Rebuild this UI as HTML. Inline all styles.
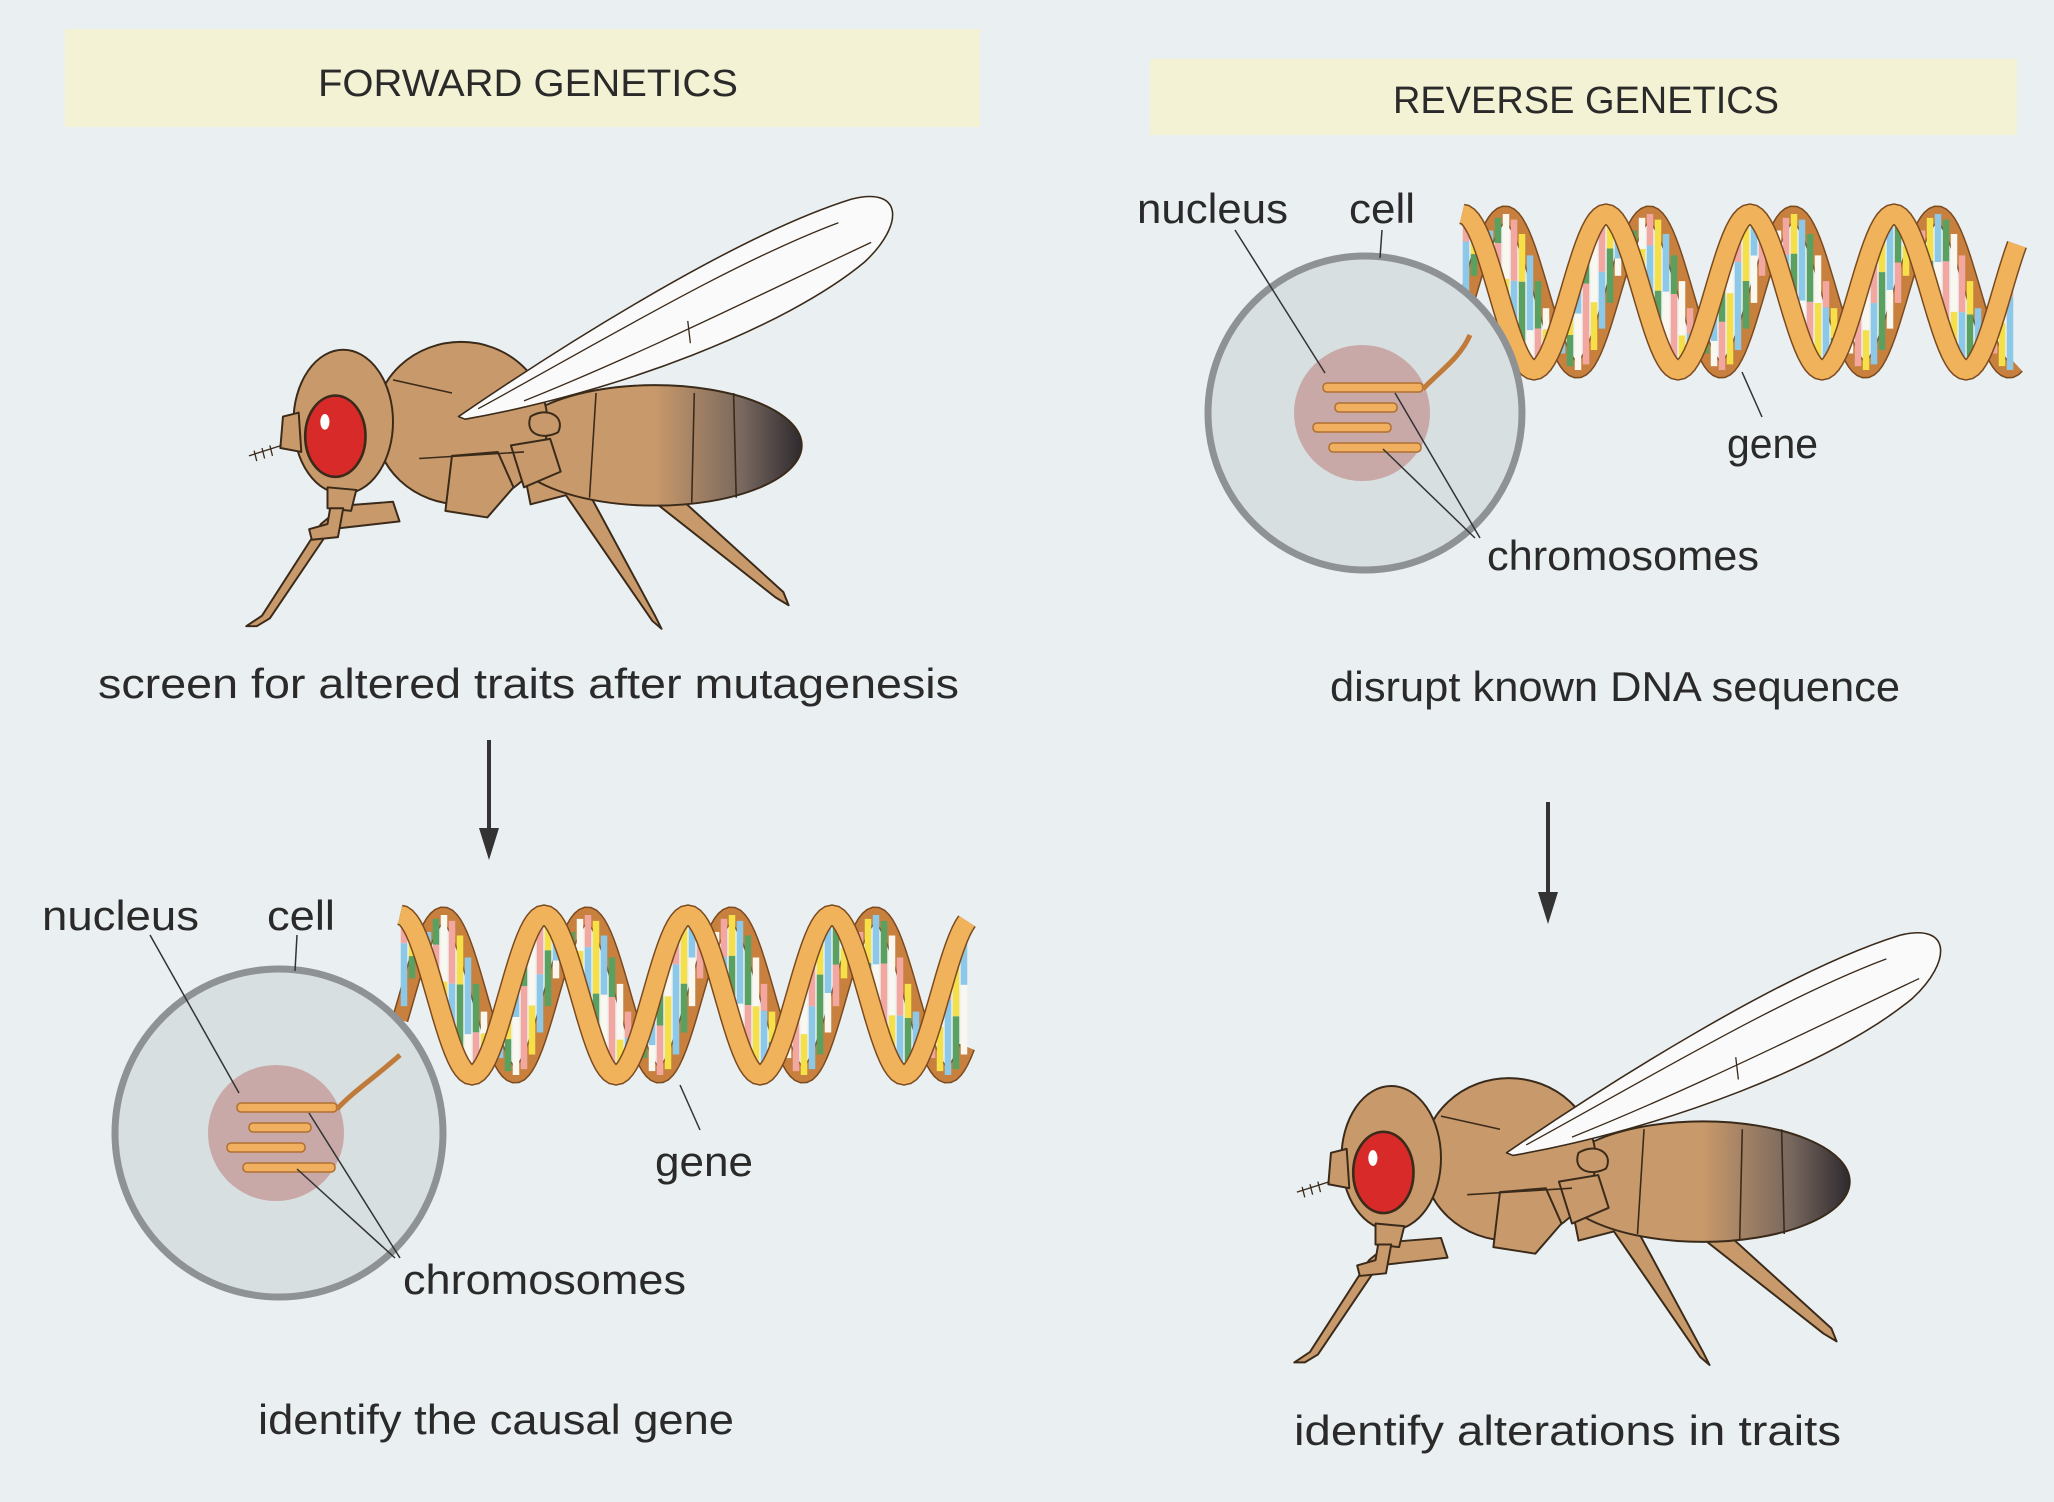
<!DOCTYPE html>
<html><head><meta charset="utf-8"><style>
html,body{margin:0;padding:0;background:#eaeff1;}
svg{display:block;}
text{font-family:"Liberation Sans",sans-serif;fill:#2a2a2a;}
</style></head><body>
<svg id="s" width="2054" height="1502" viewBox="0 0 2054 1502" xmlns="http://www.w3.org/2000/svg">
<defs>
<linearGradient id="abd" x1="0" x2="1" y1="0" y2="0">
<stop offset="0" stop-color="#c8996a"/><stop offset="0.5" stop-color="#c8996a"/><stop offset="0.8" stop-color="#77675e"/><stop offset="1" stop-color="#2e2a2e"/>
</linearGradient>
<g id="fly" stroke="#3a2a1a" stroke-width="1.5" stroke-linejoin="round">
  <g fill="#c8996a">
  <!-- legs -->
  <path d="M300,383 L262,386 L245,400 L200,470 L188,478 L196,478 L206,472 L252,404 L305,398 Z"/>
  <path d="M400,360 L425,352 L445,368 L500,470 L505,480 L498,474 L432,378 L405,385 Z"/>
  <path d="M455,352 L490,345 L510,372 L598,452 L602,462 L592,456 L498,382 L465,378 Z"/>
  <ellipse cx="500" cy="340" rx="112" ry="46" fill="url(#abd)"/>
  <ellipse cx="352" cy="323" rx="66" ry="62"/>
  <path d="M345,348 L380,345 L392,372 L372,395 L340,390 Z"/>
  <path d="M390,340 L420,335 L428,360 L400,372 Z"/>
  <path d="M405,318 C418,310 432,318 426,330 C415,336 400,332 405,318 Z"/>
  <ellipse cx="262" cy="322" rx="38" ry="55"/>
  <path d="M250,372 L272,374 L268,390 L250,388 Z"/>
  <path d="M252,388 L262,388 L258,410 L238,412 L236,404 L250,400 Z"/>
  <path d="M228,315 L216,318 L214,342 L230,345 Z"/>
  </g>
  <ellipse cx="256" cy="333" rx="23" ry="31" fill="#d92a2a" stroke-width="2"/>
  <ellipse cx="248" cy="322" rx="3.5" ry="6" fill="#fff" stroke="none"/>
  <path d="M215,340 L190,348 M194,344 L196,352 M200,342 L202,350 M206,340 L208,348" fill="none" stroke-width="1"/>
  <path d="M350,318 C420,270 560,180 650,152 C690,142 690,172 660,200 C600,250 470,300 355,320 Z" fill="#fafafa" stroke-width="1.2"/>
  <path d="M365,312 C460,260 560,200 640,170 M400,306 C490,270 580,225 665,185 M525,245 L527,262" fill="none" stroke-width="1"/>
  <path d="M300,290 L345,300 M320,350 L400,345 M455,300 L450,380 M530,300 L528,385 M560,300 L562,380" fill="none" stroke-width="1.2"/>
</g>
</defs>
<rect x="65" y="29" width="915" height="98" fill="#f4f2d4"/>
<rect x="1150" y="59" width="867" height="76" fill="#f4f2d4"/>
<text x="318" y="96" font-size="38" textLength="420" lengthAdjust="spacingAndGlyphs">FORWARD GENETICS</text>
<text x="1393" y="113" font-size="38" textLength="386" lengthAdjust="spacingAndGlyphs">REVERSE GENETICS</text>

<use href="#fly" transform="scale(1.31)"/>
<use href="#fly" transform="scale(1.31) translate(800,562)"/>

<text x="98" y="698" font-size="42" textLength="861" lengthAdjust="spacingAndGlyphs">screen for altered traits after mutagenesis</text>
<text x="1330" y="701" font-size="42" textLength="570" lengthAdjust="spacingAndGlyphs">disrupt known DNA sequence</text>
<text x="258" y="1434" font-size="42" textLength="476" lengthAdjust="spacingAndGlyphs">identify the causal gene</text>
<text x="1294" y="1445" font-size="42" textLength="547" lengthAdjust="spacingAndGlyphs">identify alterations in traits</text>

<g stroke="#333" stroke-width="4" fill="#333">
<line x1="489" y1="740" x2="489" y2="832"/><path d="M479,828 L499,828 L489,860 Z" stroke="none"/>
<line x1="1548" y1="802" x2="1548" y2="896"/><path d="M1538,892 L1558,892 L1548,924 Z" stroke="none"/>
</g>
<g id="cells"></g>
</svg>
<script>
var s='';
function T(x,y,len,t){return '<text x="'+x+'" y="'+y+'" font-size="42" textLength="'+len+'" lengthAdjust="spacingAndGlyphs">'+t+'</text>';}
function cell(cx,cy,r,nr,tx,ty,L){
 var o='';
 o+='<circle cx="'+cx+'" cy="'+cy+'" r="'+r+'" fill="#d7dfe0" stroke="#8f9294" stroke-width="7"/>';
 o+='<circle cx="'+(cx-3)+'" cy="'+cy+'" r="'+nr+'" fill="#c9a8a8"/>';
 var ch=[[-42,-30,100],[-30,-10,62],[-52,10,78],[-36,30,92]];
 ch.forEach(function(c){o+='<rect x="'+(cx+c[0])+'" y="'+(cy+c[1])+'" width="'+c[2]+'" height="9" rx="4" fill="#f0b060" stroke="#b07030" stroke-width="1.5"/>';});
 o+='<g stroke="#333" stroke-width="1.5" fill="none">';
 o+='<line x1="'+L.nl[0]+'" y1="'+L.nl[1]+'" x2="'+(cx-40)+'" y2="'+(cy-40)+'"/>';
 o+='<line x1="'+L.cl[0]+'" y1="'+L.cl[1]+'" x2="'+(L.cl[0]-2)+'" y2="'+(cy-r+2)+'"/>';
 o+='<line x1="'+(cx+30)+'" y1="'+(cy-20)+'" x2="'+L.chl[0]+'" y2="'+L.chl[1]+'"/>';
 o+='<line x1="'+(cx+18)+'" y1="'+(cy+36)+'" x2="'+(L.chl[0]-5)+'" y2="'+L.chl[1]+'"/>';
 o+='</g>';
 o+='<path d="M'+(cx+58)+','+(cy-24)+' C'+(cx+75)+','+(cy-42)+' '+(cx+95)+','+(cy-55)+' '+tx+','+ty+'" fill="none" stroke="#c07a3a" stroke-width="5"/>';
 o+=L.t;
 return o;
}
function dna(x0,x1,cy,A,P,gx,gy){
 var o='',cols=['#f2a8a0','#f6e04a','#8cc8e8','#5aa060','#f8f8f0'];
 var k=0, off=0.3;
 function yb(x){return cy-A*Math.cos((x-x0)/P*2*Math.PI - off*2*Math.PI);}
 function yf(x){return cy-A*Math.cos((x-x0)/P*2*Math.PI);}
 for(var x=x0+4;x<x1-4;x+=8){
   var a=yb(x),b=yf(x),top=Math.min(a,b),bot=Math.max(a,b);
   if(bot-top<25) continue;
   var m=top+(bot-top)*(0.3+0.4*((k*37)%10)/10);
   o+='<line x1="'+x+'" y1="'+top+'" x2="'+x+'" y2="'+m+'" stroke="'+cols[k%5]+'" stroke-width="6.5"/>';
   o+='<line x1="'+x+'" y1="'+m+'" x2="'+x+'" y2="'+bot+'" stroke="'+cols[(k+2)%5]+'" stroke-width="6.5"/>';
   k++;
 }
 function strand(f,color,w){
   var d='';
   for(var x=x0;x<=x1;x+=3){d+=(x==x0?'M':'L')+x+','+f(x).toFixed(1);}
   return '<path d="'+d+'" fill="none" stroke="#7a4a20" stroke-width="'+(w+3)+'"/><path d="'+d+'" fill="none" stroke="'+color+'" stroke-width="'+w+'"/>';
 }
 o=strand(yb,'#c8803e',14)+o+strand(yf,'#f0b25a',18);
 o+='<line x1="'+gx+'" y1="'+gy+'" x2="'+(gx+20)+'" y2="'+(gy+45)+'" stroke="#333" stroke-width="1.5"/>';
 return o;
}
s+=dna(400,969,995,80,144,680,1085);
s+=cell(279,1133,164,68,400,1055,{nl:[150,935],cl:[297,935],chl:[400,1258],
 t:T(42,930,157,'nucleus')+T(267,930,68,'cell')+T(403,1294,283,'chromosomes')+T(655,1176,98,'gene')});
s+=dna(1462,2017,292,78,144,1742,372);
s+=cell(1365,413,157,68,1470,335,{nl:[1235,230],cl:[1382,230],chl:[1480,538],
 t:T(1137,223,151,'nucleus')+T(1349,223,66,'cell')+T(1487,570,272,'chromosomes')+T(1727,458,91,'gene')});
document.getElementById('cells').innerHTML=s;
</script>
</body></html>
